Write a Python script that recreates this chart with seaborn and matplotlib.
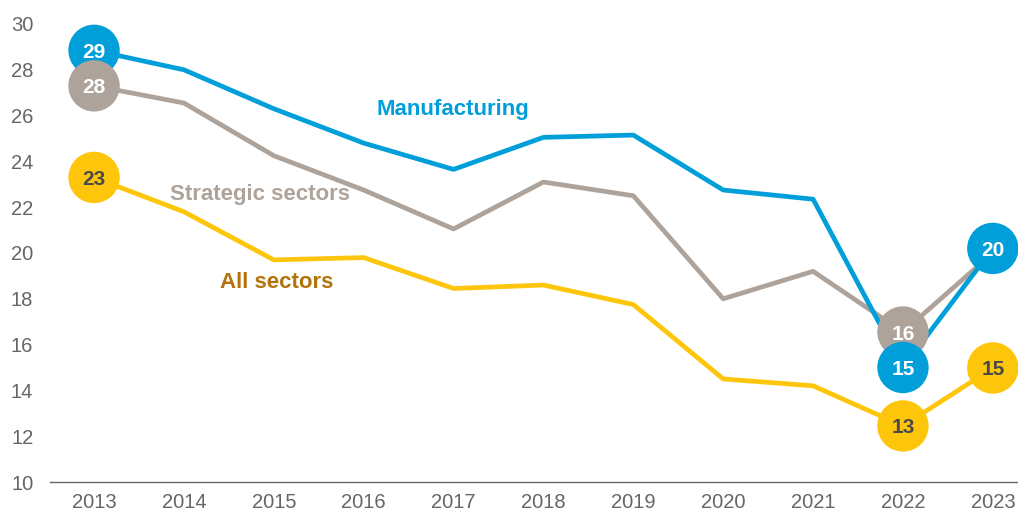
import matplotlib
matplotlib.use("Agg")
import matplotlib.pyplot as plt
import seaborn as sns
import pandas as pd

years = ["2013", "2014", "2015", "2016", "2017", "2018", "2019", "2020", "2021", "2022", "2023"]
manufacturing = [28.85, 28.0, 26.3, 24.8, 23.65, 25.05, 25.15, 22.75, 22.35, 15.0, 20.2]
strategic = [27.3, 26.55, 24.25, 22.75, 21.05, 23.1, 22.5, 18.0, 19.2, 16.55, 20.0]
all_sectors = [23.3, 21.8, 19.7, 19.8, 18.45, 18.6, 17.75, 14.5, 14.2, 12.45, 14.98]

series_names = ["Manufacturing", "Strategic sectors", "All sectors"]
yticks = [10, 12, 14, 16, 18, 20, 22, 24, 26, 28, 30]

# labelled circles: (series, year index, label)
bubble_series = ["All sectors", "Manufacturing", "Strategic sectors",
                 "All sectors", "Strategic sectors", "Manufacturing",
                 "All sectors", "Manufacturing"]
bubble_year = [0, 0, 0, 9, 9, 9, 10, 10]
bubble_text = ["23", "29", "28", "13", "16", "15", "15", "20"]

colors = {"Manufacturing": "#009fda", "Strategic sectors": "#ada39a", "All sectors": "#fdc60a"}
text_colors = {"Manufacturing": "white", "Strategic sectors": "white", "All sectors": "#4a4a4a"}
name_colors = {"Manufacturing": "#009fda", "Strategic sectors": "#ada39a", "All sectors": "#b3720a"}
name_pos = {"Manufacturing": (3.99, 26.03), "Strategic sectors": (1.85, 22.31), "All sectors": (2.03, 18.47)}

values = {"Manufacturing": manufacturing, "Strategic sectors": strategic, "All sectors": all_sectors}
df = pd.DataFrame({
    "x": list(range(len(years))) * 3,
    "value": manufacturing + strategic + all_sectors,
    "series": sum([[s] * len(years) for s in series_names], []),
})

sns.set_theme(style="white")
fam = ["Liberation Sans", "DejaVu Sans"]
plt.rcParams["font.family"] = fam

fig = plt.figure(figsize=(10.18, 5.13), dpi=100)
ax = fig.add_axes([50 / 1018, 31 / 513, 968 / 1018, 458 / 513])

sns.lineplot(data=df, x="x", y="value", hue="series", hue_order=series_names[::-1],
             palette=colors, linewidth=3.4, legend=False, ax=ax, zorder=2)

for i, (s, yi, t) in enumerate(zip(bubble_series, bubble_year, bubble_text)):
    v = values[s][yi]
    ax.scatter([yi], [v], s=37 ** 2, color=colors[s], edgecolor="none", zorder=5 + i)
    ax.text(yi, v, t, ha="center", va="center_baseline", fontsize=15, fontweight="bold",
            color=text_colors[s], zorder=5 + i, family=fam)

for s in series_names:
    x, y = name_pos[s]
    ax.text(x, y, s, ha="center", va="baseline", fontsize=16, fontweight="bold",
            color=name_colors[s], family=fam)

ax.set_xlim(-0.49, 10.28)
ax.set_ylim(10, 30)
ax.set_xticks(range(len(years)))
ax.set_xticklabels(years)
ax.set_yticks(yticks)
ax.set_yticklabels([str(v) for v in yticks])
ax.tick_params(axis="both", length=0, labelsize=14.5, labelcolor="#666666")
ax.tick_params(axis="y", pad=12)
ax.tick_params(axis="x", pad=8)
ax.set_xlabel("")
ax.set_ylabel("")
for sp in ["left", "right", "top"]:
    ax.spines[sp].set_visible(False)
ax.spines["bottom"].set_color("#666666")
ax.spines["bottom"].set_linewidth(1.0)
ax.grid(False)

fig.savefig("out.png", dpi=100)
